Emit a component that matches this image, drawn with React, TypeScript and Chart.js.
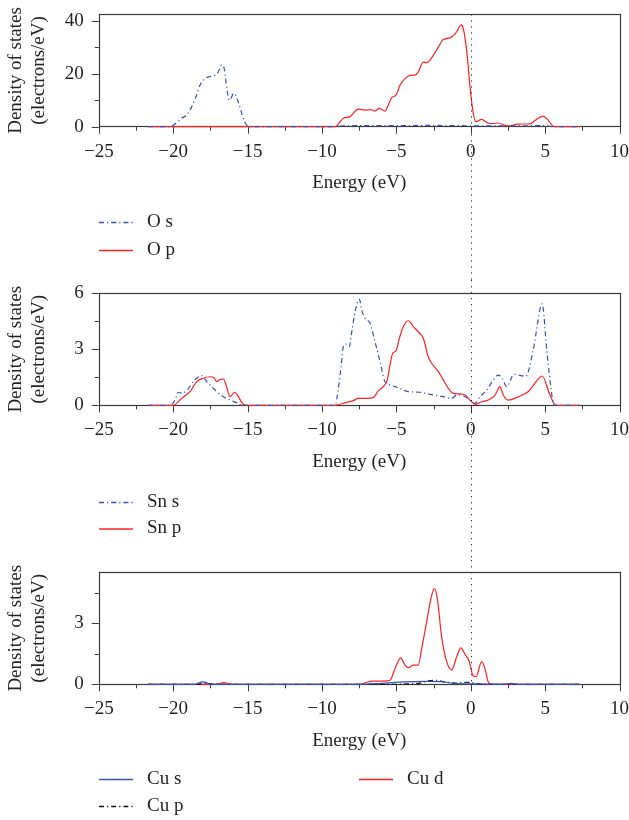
import React, { useEffect, useRef } from 'react';
import { Chart, registerables } from 'chart.js';

Chart.register(...registerables);

// ---------- data ----------
const xTickLabels = [-25, -20, -15, -10, -5, 0, 5, 10];
const yTickLabelsO = [0, 20, 40];
const yTickLabelsSn = [0, 3, 6];
const yTickLabelsCu = [0, 3];

const energyOs = [-21.7, -20.2, -19.83, -19.43, -19.1, -18.76, -18.47, -18.2, -17.86, -17.53, -17.19, -16.97, -16.74, -16.57, -16.41, -16.23, -15.91, -15.69, -15.46, -15.29, -15.06, -14.8, -9.2, -8.6, -7, -5, -3, -1, 0.5, 2, 3.5, 4.8, 5.6, 7.3];
const dosOs = [0, 0, 1.3, 3.2, 4.4, 7.5, 11.3, 15.7, 18.2, 19.0, 19.5, 20.7, 23.4, 21.9, 15, 10, 12.6, 10.3, 6.3, 3.2, 0.6, 0, 0, 0.3, 0.4, 0.4, 0.5, 0.4, 0.3, 0.3, 0.3, 0.5, 0, 0];

const energyOp = [-21.7, -9.2, -9.01, -8.57, -8.12, -7.56, -7.11, -6.66, -6.44, -6.15, -5.77, -5.54, -5.32, -5.03, -4.76, -4.42, -4.09, -3.75, -3.53, -3.19, -2.97, -2.52, -2.18, -1.85, -1.4, -1.06, -0.84, -0.66, -0.5, -0.28, -0.05, 0.13, 0.35, 0.73, 1.18, 1.5, 1.83, 2.5, 3.2, 4.0, 4.3, 4.85, 5.2, 5.6, 7.3];
const dosOp = [0, 0, 0.3, 3.2, 3.8, 6.65, 6.3, 6.4, 5.9, 6.9, 5.9, 8.2, 11.0, 11.9, 15.7, 18.2, 19.4, 19.5, 20.7, 24.4, 24.2, 27, 30.1, 33, 33.6, 35.1, 37, 38.5, 37, 28.8, 15, 6.3, 1.9, 2.8, 1.3, 1.2, 1.4, 0.3, 1.0, 1.1, 2.3, 4.0, 2.5, 0, 0];

const energySns = [-21.7, -20.2, -19.88, -19.66, -19.43, -19.05, -18.65, -18.09, -17.75, -17.41, -17.08, -16.63, -16.18, -15.62, -15.4, -9.13, -8.9, -8.68, -8.57, -8.39, -8.16, -8.0, -7.78, -7.49, -7.33, -7.11, -6.77, -6.44, -6.1, -5.77, -5.43, -4.87, -4.2, -3.41, -2.74, -1.85, -1.28, -0.95, -0.39, 0.06, 0.28, 0.62, 1.07, 1.51, 1.85, 2.14, 2.41, 2.9, 3.7, 4.2, 4.8, 5.1, 5.5, 5.7, 7.3];
const dosSns = [0, 0, 0.28, 0.7, 0.64, 0.82, 1.27, 1.59, 1.27, 1.0, 0.73, 0.46, 0.28, 0.1, 0, 0, 0.91, 2.34, 3.14, 3.28, 3.14, 3.94, 5.0, 5.69, 5.1, 4.66, 4.39, 3.41, 2.34, 1.27, 1.09, 0.94, 0.73, 0.7, 0.59, 0.46, 0.37, 0.55, 0.46, 0.19, 0.1, 0.46, 0.82, 1.36, 1.62, 1.41, 1.0, 1.66, 1.55, 3.0, 5.43, 3.0, 0.3, 0, 0];

const energySnp = [-21.7, -20.0, -19.43, -18.87, -18.42, -17.98, -17.53, -17.26, -17.08, -16.85, -16.63, -16.45, -16.18, -15.85, -15.62, -15.29, -15.0, -9.13, -8.34, -7.9, -7.56, -7.0, -6.55, -6.22, -5.88, -5.61, -5.43, -5.25, -5.03, -4.8, -4.54, -4.2, -3.86, -3.53, -3.19, -2.86, -2.63, -2.18, -1.85, -1.51, -1.18, -0.73, -0.39, -0.05, 0.28, 0.73, 1.18, 1.63, 1.96, 2.18, 2.52, 3.2, 3.85, 4.1, 4.8, 5.3, 5.7, 7.3];
const dosSnp = [0, 0, 0.37, 0.73, 1.27, 1.45, 1.53, 1.48, 1.27, 1.39, 1.41, 1.09, 0.46, 0.7, 0.46, 0.05, 0, 0, 0.16, 0.25, 0.37, 0.37, 0.41, 0.77, 1.0, 1.36, 2.16, 2.79, 2.91, 3.59, 4.21, 4.53, 4.21, 3.94, 3.59, 2.6, 2.25, 1.8, 1.36, 0.91, 0.64, 0.61, 0.55, 0.28, 0.05, 0.19, 0.28, 0.55, 1.0, 0.55, 0.28, 0.46, 0.73, 0.96, 1.57, 0.6, 0, 0];

const energyCus = [-21.7, -18.6, -18.0, -17.4, -7.5, -6.0, -4.5, -3.0, -2.0, -1.2, 0, 2.2, 2.7, 3.2, 7.3];
const dosCus = [0, 0, 0.12, 0, 0, 0.05, 0.12, 0.14, 0.13, 0.05, 0.02, 0, 0.05, 0, 0];

const energyCup = [-21.7, -18.4, -17.8, -17.2, -6, -3.5, -2.8, -2.3, -1.8, -1.0, -0.3, 0.4, 1.0, 7.3];
const dosCup = [0, 0, 0.05, 0, 0, 0.05, 0.18, 0.2, 0.12, 0.06, 0.1, 0.04, 0, 0];

const energyCud = [-21.7, -17.2, -16.6, -16.0, -7.45, -7.0, -6.55, -5.88, -5.43, -5.09, -4.71, -4.42, -4.2, -3.86, -3.53, -3.3, -2.97, -2.63, -2.45, -2.25, -1.96, -1.62, -1.28, -0.95, -0.68, -0.39, -0.1, 0.13, 0.35, 0.73, 0.95, 1.18, 1.4, 7.3];
const dosCud = [0, 0, 0.08, 0, 0, 0.1, 0.16, 0.16, 0.2, 0.78, 1.3, 0.94, 0.81, 0.94, 0.94, 1.76, 3.06, 4.37, 4.7, 4.21, 2.33, 1.11, 0.7, 1.35, 1.79, 1.47, 1.11, 0.45, 0.37, 1.11, 0.78, 0.1, 0, 0];

// ---------- styling ----------
const FONT = "'Liberation Serif', 'Times New Roman', serif";
const TEXT = '#231f20';
const AXIS = '#3a3a3a';
const BLUE = '#3552b2';
const RED = '#ff2020';
const BLACK = '#111111';
const DASHDOT = [5, 3, 1.2, 3];

const fmt = (v: number) => (v < 0 ? '\u2212' + Math.abs(v) : String(v));
const inList = (list: number[], v: number) => list.some((t) => Math.abs(t - v) < 1e-6);

// ---------- plugins ----------
const framePlugin = {
  id: 'dosFrame',
  beforeDatasetsDraw(chart: any, _a: any, opts: any) {
    const { ctx, chartArea: ca } = chart;
    const xs = chart.scales.x;
    const ys = chart.scales.y;
    ctx.save();
    ctx.strokeStyle = AXIS;
    ctx.lineWidth = 1.2;
    ctx.setLineDash([]);
    ctx.strokeRect(Math.round(ca.left) + 0.5, Math.round(ca.top) + 0.5, Math.round(ca.right - ca.left), Math.round(ca.bottom - ca.top));
    ctx.lineWidth = 1;
    ctx.beginPath();
    xs.ticks.forEach((t: any) => {
      const px = Math.round(xs.getPixelForValue(t.value)) + 0.5;
      const len = inList(xTickLabels, t.value) ? 7 : 4;
      ctx.moveTo(px, ca.bottom);
      ctx.lineTo(px, ca.bottom + len);
    });
    ys.ticks.forEach((t: any) => {
      const py = Math.round(ys.getPixelForValue(t.value)) + 0.5;
      const len = inList(opts.yLabels, t.value) ? 7 : 4;
      ctx.moveTo(ca.left, py);
      ctx.lineTo(ca.left - len, py);
    });
    ctx.stroke();
    ctx.restore();
  },
};

const fermiPlugin = {
  id: 'fermiLine',
  afterDraw(chart: any, _a: any, opts: any) {
    const { ctx, chartArea: ca, height } = chart;
    const px = Math.round(chart.scales.x.getPixelForValue(0)) + 0.5;
    const y0 = opts.fromTop ? 0 : ca.top;
    const y1 = opts.toBottom ? height : ca.bottom;
    ctx.save();
    ctx.strokeStyle = '#333';
    ctx.lineWidth = 1;
    ctx.setLineDash([1.3, 4.7]);
    ctx.beginPath();
    ctx.moveTo(px, y0);
    ctx.lineTo(px, y1);
    ctx.stroke();
    ctx.restore();
  },
};

const legendPlugin = {
  id: 'dosLegend',
  afterDraw(chart: any, _a: any, opts: any) {
    const { ctx } = chart;
    ctx.save();
    (opts.items || []).forEach((it: any) => {
      const ds = chart.data.datasets[it.index];
      ctx.strokeStyle = ds.borderColor;
      ctx.lineWidth = 1.3;
      ctx.setLineDash(ds.borderDash || []);
      ctx.beginPath();
      ctx.moveTo(it.x, it.y + 0.5);
      ctx.lineTo(it.x + 34, it.y + 0.5);
      ctx.stroke();
      ctx.setLineDash([]);
      ctx.fillStyle = TEXT;
      ctx.font = `19px ${FONT}`;
      ctx.textBaseline = 'middle';
      ctx.textAlign = 'left';
      ctx.fillText(ds.label, it.x + 48, it.y);
    });
    ctx.restore();
  },
};

type Series = { label: string; energy: number[]; dos: number[]; color: string; dash: number[] };

function makeConfig(p: {
  series: Series[];
  yMax: number;
  yStep: number;
  yLabels: number[];
  padTop: number;
  padBottom: number;
  fermi: { fromTop: boolean; toBottom: boolean };
  legend: { index: number; x: number; y: number }[];
}): any {
  const font = { family: FONT, size: 19 };
  return {
    type: 'line',
    data: {
      datasets: p.series.map((s) => ({
        label: s.label,
        data: s.energy.map((e, i) => ({ x: e, y: s.dos[i] })),
        borderColor: s.color,
        borderDash: s.dash,
        borderWidth: 1.2,
        pointRadius: 0,
        fill: false,
        clip: 2,
        cubicInterpolationMode: 'monotone',
      })),
    },
    options: {
      responsive: false,
      animation: false,
      events: [],
      layout: { padding: { top: p.padTop, bottom: p.padBottom, left: 0, right: 9.4 } },
      scales: {
        x: {
          type: 'linear',
          min: -25,
          max: 10,
          ticks: {
            stepSize: 2.5,
            includeBounds: false,
            autoSkip: false,
            maxRotation: 0,
            padding: 6.5,
            font,
            color: TEXT,
            callback: (v: number) => (inList(xTickLabels, v) ? fmt(v) : ''),
          },
          grid: { display: true, drawOnChartArea: false, drawTicks: true, tickLength: 7, tickColor: 'rgba(0,0,0,0)' },
          border: { display: false },
          title: { display: true, text: 'Energy (eV)', font, color: TEXT, padding: 0 },
          afterFit: (s: any) => {
            s.height = 68;
            s.paddingLeft = 0;
            s.paddingRight = 0;
          },
        },
        y: {
          type: 'linear',
          min: 0,
          max: p.yMax,
          ticks: {
            stepSize: p.yStep,
            includeBounds: false,
            autoSkip: false,
            padding: 8,
            font,
            color: TEXT,
            callback: (v: number) => (inList(p.yLabels, v) ? fmt(v) : ''),
          },
          grid: { display: true, drawOnChartArea: false, drawTicks: true, tickLength: 7, tickColor: 'rgba(0,0,0,0)' },
          border: { display: false },
          title: {
            display: true,
            text: ['Density of states', '(electrons/eV)'],
            font,
            color: TEXT,
            padding: { top: 4.5, bottom: 0 },
          },
          afterFit: (s: any) => {
            s.width = 98.8;
            s.paddingTop = 0;
            s.paddingBottom = 0;
          },
        },
      },
      plugins: {
        legend: { display: false },
        tooltip: { enabled: false },
        dosFrame: { yLabels: p.yLabels },
        fermiLine: p.fermi,
        dosLegend: { items: p.legend },
      },
    },
    plugins: [framePlugin, fermiPlugin, legendPlugin],
  };
}

function Panel({ config, height }: { config: any; height: number }) {
  const ref = useRef<HTMLCanvasElement>(null);
  useEffect(() => {
    if (!ref.current) return;
    const chart = new Chart(ref.current, config);
    return () => chart.destroy();
  }, [config]);
  return <canvas ref={ref} width={629} height={height} style={{ display: 'block', width: 629, height }} />;
}

const cfgO = makeConfig({
  series: [
    { label: 'O s', energy: energyOs, dos: dosOs, color: BLUE, dash: DASHDOT },
    { label: 'O p', energy: energyOp, dos: dosOp, color: RED, dash: [] },
  ],
  yMax: 42.5,
  yStep: 10,
  yLabels: yTickLabelsO,
  padTop: 14.3,
  padBottom: 280 - 126.7 - 68,
  fermi: { fromTop: false, toBottom: true },
  legend: [
    { index: 0, x: 99, y: 222 },
    { index: 1, x: 99, y: 250 },
  ],
});

const cfgSn = makeConfig({
  series: [
    { label: 'Sn s', energy: energySns, dos: dosSns, color: BLUE, dash: DASHDOT },
    { label: 'Sn p', energy: energySnp, dos: dosSnp, color: RED, dash: [] },
  ],
  yMax: 6,
  yStep: 1.5,
  yLabels: yTickLabelsSn,
  padTop: 13.3,
  padBottom: 280 - 125.3 - 68,
  fermi: { fromTop: true, toBottom: true },
  legend: [
    { index: 0, x: 99, y: 222 },
    { index: 1, x: 99, y: 248.5 },
  ],
});

const cfgCu = makeConfig({
  series: [
    { label: 'Cu s', energy: energyCus, dos: dosCus, color: BLUE, dash: [] },
    { label: 'Cu p', energy: energyCup, dos: dosCup, color: BLACK, dash: DASHDOT },
    { label: 'Cu d', energy: energyCud, dos: dosCud, color: RED, dash: [] },
  ],
  yMax: 5.5,
  yStep: 1.5,
  yLabels: yTickLabelsCu,
  padTop: 12.3,
  padBottom: 260 - 124.3 - 68,
  fermi: { fromTop: true, toBottom: false },
  legend: [
    { index: 0, x: 99, y: 219 },
    { index: 1, x: 99, y: 246 },
    { index: 2, x: 359, y: 219 },
  ],
});

export default function App() {
  useEffect(() => {
    document.body.style.margin = '0';
  }, []);
  return (
    <div style={{ width: 629, background: '#fff' }}>
      <Panel config={cfgO} height={280} />
      <Panel config={cfgSn} height={280} />
      <Panel config={cfgCu} height={260} />
    </div>
  );
}
